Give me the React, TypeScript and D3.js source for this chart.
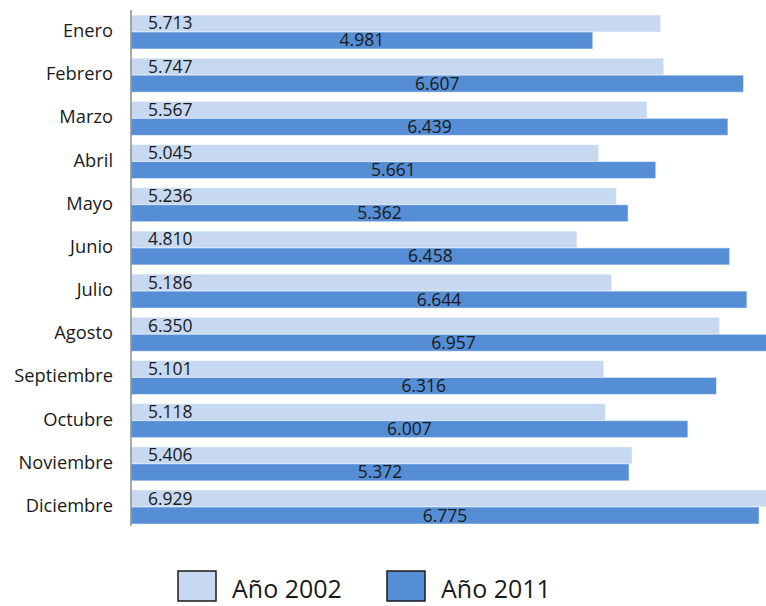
import React from "react";
import * as d3 from "d3";

const months = ["Enero", "Febrero", "Marzo", "Abril", "Mayo", "Junio", "Julio", "Agosto", "Septiembre", "Octubre", "Noviembre", "Diciembre"];
const values2002 = [5.713, 5.747, 5.567, 5.045, 5.236, 4.810, 5.186, 6.350, 5.101, 5.118, 5.406, 6.929];
const values2011 = [4.981, 6.607, 6.439, 5.661, 5.362, 6.458, 6.644, 6.957, 6.316, 6.007, 5.372, 6.775];
const seriesNames = ["Año 2002", "Año 2011"];
const seriesColors = ["#c6d9f1", "#558ed5"];

const W = 766;
const H = 606;
const FONT = "'Open Sans', Lato, sans-serif";

export default function App() {
  const x = d3.scaleLinear().domain([0, 6.85]).range([131, 766]);
  const y = d3.scaleBand<string>().domain(months).range([10.4, 528.6]).paddingInner(0.213).paddingOuter(0.1065);
  const sub = d3.scaleBand<number>().domain([0, 1]).range([0, y.bandwidth()]).padding(0);
  const fmt = d3.format(".3f");
  const series = [values2002, values2011];

  return (
    <svg width={W} height={H} style={{ position: "absolute", left: 0, top: 0, background: "#fff" }} fontFamily={FONT}>
      {months.map((m, i) => {
        const y0 = y(m)!;
        return (
          <g key={m}>
            {series.map((vals, s) => {
              const by = y0 + sub(s)!;
              const bh = sub.bandwidth();
              return (
                <rect key={s} x={x(0)} y={by} width={x(vals[i]) - x(0)} height={bh}
                  fill={seriesColors[s]} stroke="#ffffff" strokeOpacity={0.5} strokeWidth={1} />
              );
            })}
            <text x={113} y={y0 + y.bandwidth() / 2 + 5} textAnchor="end" fontSize={18.3} fill="#1a1a1a">{m}</text>
            <text x={148} y={y0 + sub(0)! + sub.bandwidth() - 2.5} fontSize={17.5} fill="#1a1a1a">{fmt(values2002[i])}</text>
            <text x={(x(0) + x(values2011[i])) / 2} y={y0 + sub(1)! + sub.bandwidth() - 2.5} textAnchor="middle" fontSize={17.5} fill="#1a1a1a">{fmt(values2011[i])}</text>
          </g>
        );
      })}
      <line x1={131} x2={131} y1={10} y2={526} stroke="#8c8c8c" strokeWidth={1.5} />
      {seriesNames.map((name, s) => {
        const lx = s === 0 ? 178 : 387;
        return (
          <g key={name}>
            <rect x={lx} y={571} width={38} height={30} fill={seriesColors[s]} stroke="#1a1a1a" strokeWidth={1.5} />
            <text x={lx + 54} y={598} fontSize={25} fill="#1a1a1a">{name}</text>
          </g>
        );
      })}
    </svg>
  );
}
